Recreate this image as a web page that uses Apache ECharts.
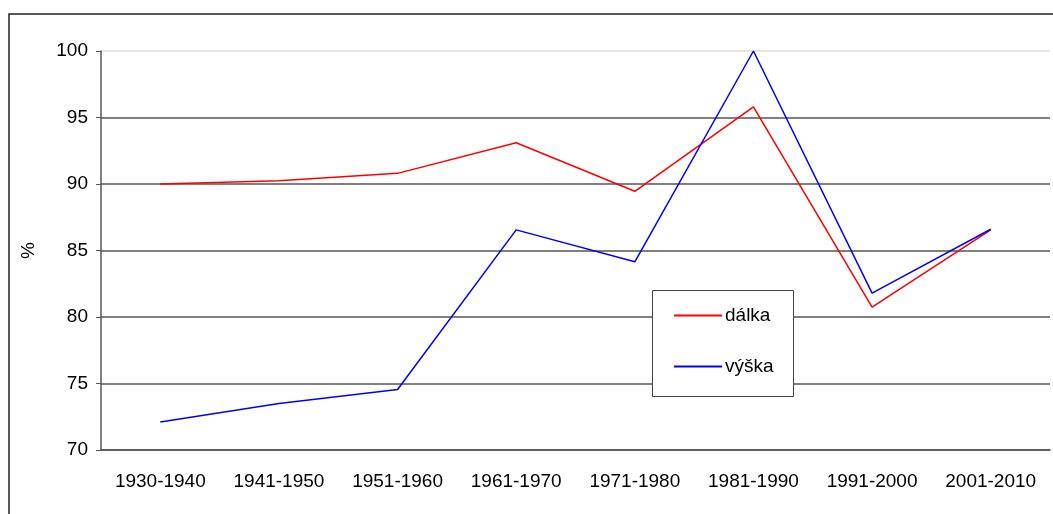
<!DOCTYPE html>
<html lang="cs">
<head>
    <meta charset="UTF-8">
    <title>dálka / výška</title>
    <script src="https://cdn.jsdelivr.net/npm/echarts@6/dist/echarts.min.js"></script>
    <style>
        body { margin: 0; background: #fff; }
        #chart { width: 1053px; height: 514px; }
    </style>
</head>
<body>
    <div id="chart"></div>
    <script>
        // data
        const decades = ['1930-1940', '1941-1950', '1951-1960', '1961-1970', '1971-1980', '1981-1990', '1991-2000', '2001-2010'];
        const dalka = [90.0, 90.25, 90.8, 93.1, 89.45, 95.8, 80.75, 86.55];
        const vyska = [72.1, 73.5, 74.55, 86.55, 84.15, 100.0, 81.8, 86.6];

        const chart = echarts.init(document.getElementById('chart'));
        const font = 'Liberation Sans, Arial, sans-serif';

        chart.setOption({
            animation: false,
            backgroundColor: '#fff',
            grid: { left: 101, top: 51, right: 3, bottom: 64 },
            graphic: [{
                // outer frame
                type: 'rect',
                shape: { x: 9, y: 14, width: 1200, height: 700 },
                style: { fill: 'none', stroke: '#222', lineWidth: 1.5 },
                silent: true
            }, {
                // legend box
                type: 'rect',
                z: 4,
                shape: { x: 652.5, y: 290.5, width: 141, height: 106 },
                style: { fill: '#fff', stroke: '#444', lineWidth: 1 },
                silent: true
            }],
            legend: {
                left: 674, top: 306,
                orient: 'vertical',
                padding: 0,
                itemGap: 32,
                itemWidth: 48, itemHeight: 2,
                z: 5,
                icon: 'rect',
                textStyle: { fontFamily: font, fontSize: 19, color: '#000', padding: [0, 0, 0, -2] },
                data: ['dálka', 'výška']
            },
            xAxis: {
                type: 'category',
                data: decades,
                boundaryGap: true,
                axisLine: { lineStyle: { color: '#555', width: 1.5 } },
                axisTick: { length: 5, lineStyle: { color: '#555' } },
                axisLabel: { fontFamily: font, fontSize: 19, color: '#000', margin: 22 }
            },
            yAxis: {
                type: 'value',
                min: 70, max: 100, interval: 5,
                name: '%',
                nameLocation: 'middle',
                nameGap: 63,
                nameRotate: 90,
                nameTextStyle: { fontFamily: font, fontSize: 19, color: '#000' },
                axisLine: { show: true, lineStyle: { color: '#555', width: 1.5 } },
                axisTick: { show: true, length: 5, lineStyle: { color: '#555' } },
                axisLabel: { fontFamily: font, fontSize: 19, color: '#000', margin: 13 },
                splitLine: {
                    lineStyle: {
                        color: ['#555', '#555', '#555', '#555', '#555', '#555', '#ddd'],
                        width: 1.5
                    }
                }
            },
            series: [{
                name: 'dálka',
                type: 'line',
                data: dalka,
                symbol: 'none',
                lineStyle: { color: '#ff0000', width: 1.5 },
                itemStyle: { color: '#ff0000' }
            }, {
                name: 'výška',
                type: 'line',
                data: vyska,
                symbol: 'none',
                lineStyle: { color: '#0000ff', width: 1.5 },
                itemStyle: { color: '#0000ff' }
            }]
        });
    </script>
</body>
</html>
